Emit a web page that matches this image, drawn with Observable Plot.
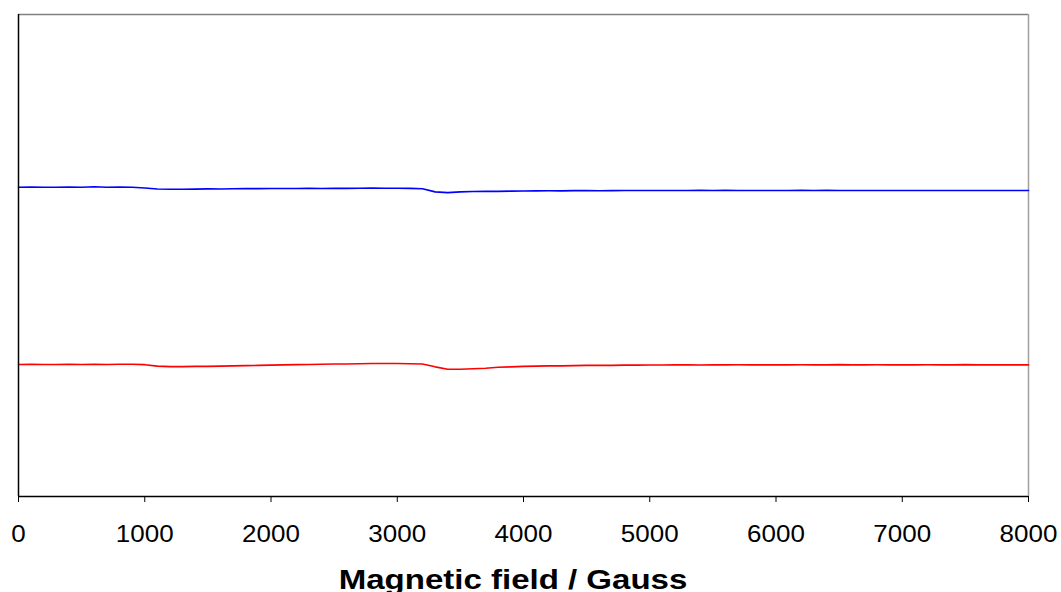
<!DOCTYPE html>
<html>
<head>
<meta charset="utf-8">
<script src="https://cdn.jsdelivr.net/npm/d3@7"></script>
<script src="https://cdn.jsdelivr.net/npm/@observablehq/plot@0.6"></script>
<style>
  html, body { margin: 0; padding: 0; background: #fff; }
  #chart { width: 1061px; height: 592px; overflow: hidden; }
  svg { display: block; }
</style>
</head>
<body>
<div id="chart"></div>
<script>
// Magnetic field (Gauss), sampled every 100 G
const field = [
  0,100,200,300,400,500,600,700,800,900,
  1000,1100,1200,1300,1400,1500,1600,1700,1800,1900,
  2000,2100,2200,2300,2400,2500,2600,2700,2800,2900,
  3000,3100,3200,3300,3400,3500,3600,3700,3800,3900,
  4000,4100,4200,4300,4400,4500,4600,4700,4800,4900,
  5000,5100,5200,5300,5400,5500,5600,5700,5800,5900,
  6000,6100,6200,6300,6400,6500,6600,6700,6800,6900,
  7000,7100,7200,7300,7400,7500,7600,7700,7800,7900,8000
];
// Blue spectrum (arbitrary units)
const blueSignal = [
  64.15,64.2,64.15,64.15,64.18,64.15,64.25,64.15,64.2,64.15,
  64.0,63.8,63.75,63.75,63.78,63.82,63.8,63.85,63.88,63.88,
  63.9,63.9,63.9,63.92,63.9,63.95,63.92,63.95,63.98,63.95,
  63.95,63.92,63.85,63.2,63.05,63.2,63.28,63.3,63.3,63.35,
  63.38,63.4,63.42,63.4,63.45,63.45,63.42,63.45,63.5,63.48,
  63.5,63.5,63.48,63.5,63.55,63.5,63.52,63.5,63.5,63.5,
  63.5,63.5,63.52,63.5,63.55,63.5,63.5,63.5,63.48,63.5,
  63.5,63.5,63.48,63.5,63.5,63.5,63.48,63.5,63.5,63.48,63.5
];
// Red spectrum (arbitrary units)
const redSignal = [
  27.4,27.42,27.4,27.4,27.45,27.4,27.42,27.4,27.45,27.45,
  27.35,27.05,26.95,26.95,27.0,27.0,27.05,27.1,27.15,27.2,
  27.25,27.3,27.35,27.4,27.45,27.5,27.5,27.55,27.6,27.6,
  27.58,27.55,27.5,26.9,26.4,26.4,26.5,26.6,26.8,26.9,
  27.0,27.05,27.1,27.1,27.15,27.2,27.2,27.2,27.25,27.25,
  27.28,27.28,27.3,27.3,27.28,27.3,27.3,27.32,27.3,27.3,
  27.3,27.3,27.32,27.3,27.3,27.35,27.3,27.3,27.32,27.3,
  27.3,27.3,27.32,27.3,27.3,27.35,27.3,27.3,27.3,27.3,27.3
];
const xTicks = [0,1000,2000,3000,4000,5000,6000,7000,8000];
const xLabel = "Magnetic field / Gauss";

const blue = field.map((f, i) => ({field: f, value: blueSignal[i]}));
const red = field.map((f, i) => ({field: f, value: redSignal[i]}));

const plot = Plot.plot({
  width: 1061,
  height: 592,
  marginLeft: 18,
  marginRight: 33,
  marginTop: 14,
  marginBottom: 96,
  style: {fontFamily: "'Liberation Sans', Arial, sans-serif", background: "#fff"},
  x: {domain: [0, 8000]},
  y: {domain: [0, 100]},
  marks: [
    Plot.ruleY([100], {stroke: "#808080", strokeWidth: 1.5}),
    Plot.ruleX([8000], {stroke: "#a0a0a0", strokeWidth: 1.5}),
    Plot.lineY(blue, {x: "field", y: "value", stroke: "#0000ff", strokeWidth: 1.6}),
    Plot.lineY(red, {x: "field", y: "value", stroke: "#ff0000", strokeWidth: 1.6}),
    Plot.ruleX([0], {stroke: "#000", strokeWidth: 1.5}),
    Plot.ruleY([0], {stroke: "#000", strokeWidth: 1.5}),
    Plot.axisX({ticks: xTicks, tickFormat: d => String(d), tickSize: 6, tickPadding: 23,
      fontSize: 23, stroke: "#000", fill: "#000", label: null}),
    Plot.axisY({ticks: [], label: null})
  ]
});

const svg = d3.select(plot);
// widen tick labels horizontally to match the reference's stretched glyphs
svg.selectAll("g[aria-label='x-axis tick label'] text").each(function () {
  const t = this.getAttribute("transform") || "";
  this.setAttribute("transform", t + " scale(1.13,1)");
});
svg.append("text")
  .attr("transform", "translate(513,589) scale(1.18,1)")
  .attr("text-anchor", "middle")
  .attr("font-family", "'Liberation Sans', Arial, sans-serif")
  .attr("font-weight", "bold")
  .attr("font-size", 28)
  .attr("fill", "#000")
  .text(xLabel);

document.getElementById("chart").appendChild(plot);
</script>
</body>
</html>
